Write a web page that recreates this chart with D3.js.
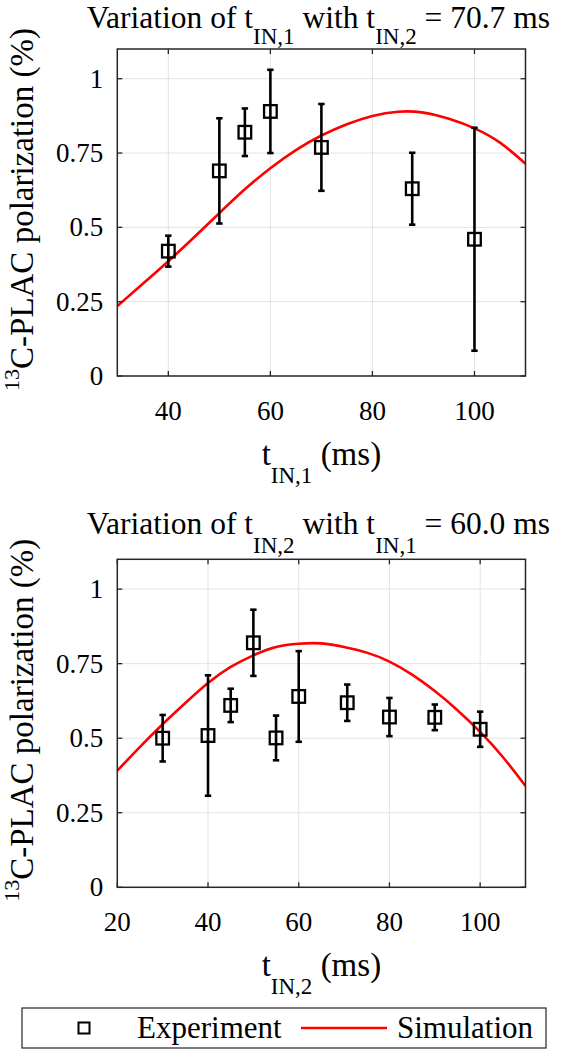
<!DOCTYPE html>
<html>
<head>
<meta charset="utf-8">
<script src="https://cdn.jsdelivr.net/npm/d3@7"></script>
<style>
  html, body { margin: 0; padding: 0; background: #fff; }
</style>
</head>
<body>
<svg id="chart" width="577" height="1050"></svg>
<script>
// ---------- DATA ----------
// Panel 1: variation of t_IN,1 (t_IN,2 = 70.7 ms)
const topExpX   = [40, 50, 55, 60, 70, 87.8, 100];
const topExpY   = [0.42, 0.69, 0.82, 0.89, 0.769, 0.63, 0.46];
const topExpErr = [0.052, 0.177, 0.08, 0.14, 0.146, 0.121, 0.375];
const topSimX   = [30, 35, 40, 45, 50, 55, 60, 65, 70, 75, 80, 85, 90, 95, 100, 105, 110];
const topSimY   = [0.235, 0.31, 0.386, 0.466, 0.548, 0.628, 0.699, 0.760, 0.809, 0.847, 0.875, 0.889, 0.886, 0.865, 0.833, 0.785, 0.714];

// Panel 2: variation of t_IN,2 (t_IN,1 = 60.0 ms)
const botExpX   = [30, 40, 45, 50, 55, 60, 70.7, 80, 90, 100];
const botExpY   = [0.50, 0.509, 0.61, 0.82, 0.501, 0.64, 0.619, 0.571, 0.57, 0.53];
const botExpErr = [0.078, 0.202, 0.056, 0.111, 0.075, 0.152, 0.061, 0.064, 0.043, 0.059];
const botSimX   = [20, 25, 30, 35, 40, 45, 50, 55, 60, 65, 70, 75, 80, 85, 90, 95, 100, 105, 110];
const botSimY   = [0.391, 0.471, 0.547, 0.618, 0.685, 0.739, 0.778, 0.806, 0.817, 0.818, 0.806, 0.787, 0.757, 0.713, 0.658, 0.594, 0.521, 0.437, 0.340];

const yTicks     = [0, 0.25, 0.5, 0.75, 1];
const yTickText  = ["0", "0.25", "0.5", "0.75", "1"];
const topXTicks  = [40, 60, 80, 100];
const botXTicks  = [20, 40, 60, 80, 100];
const topXDomain = [30, 110];
const botXDomain = [20, 110];
const yDomain    = [0, 1.1];

const titles = [
  ["Variation of t", "IN,1", " with t", "IN,2", " = 70.7 ms"],
  ["Variation of t", "IN,2", " with t", "IN,1", " = 60.0 ms"]
];
const xLabels = [["t", "IN,1", " (ms)"], ["t", "IN,2", " (ms)"]];
const yLabelSup = "13";
const yLabelMain = "C-PLAC polarization (%)";
const legendLabels = ["Experiment", "Simulation"];

// ---------- DRAW ----------
const svg = d3.select("#chart");
const AX = "#262626", GRID = "#e3e3e3", RED = "#ff0000";

function txt(sel, size) {
  return sel.attr("font-size", size)
    .style("font-family", `"Liberation Serif", monospace`)
    .attr("fill", "#000");
}

const panels = [
  { top: 49, bottom: 376, titleY: 28, subDy: 16, xDomain: topXDomain, xTicks: topXTicks,
    ex: topExpX, ey: topExpY, ee: topExpErr, sx: topSimX, sy: topSimY, title: titles[0], xl: xLabels[0] },
  { top: 559.3, bottom: 887.3, titleY: 533.5, subDy: 19, xDomain: botXDomain, xTicks: botXTicks,
    ex: botExpX, ey: botExpY, ee: botExpErr, sx: botSimX, sy: botSimY, title: titles[1], xl: xLabels[1] }
];
const left = 117.3, right = 525.5;

panels.forEach(p => {
  const x = d3.scaleLinear().domain(p.xDomain).range([left, right]);
  const y = d3.scaleLinear().domain(yDomain).range([p.bottom, p.top]);
  const g = svg.append("g");

  // grid
  g.selectAll(".gx").data(p.xTicks).enter().append("line")
    .attr("x1", d => x(d)).attr("x2", d => x(d))
    .attr("y1", p.top).attr("y2", p.bottom)
    .attr("stroke", GRID).attr("stroke-width", 1);
  g.selectAll(".gy").data(yTicks).enter().append("line")
    .attr("y1", d => y(d)).attr("y2", d => y(d))
    .attr("x1", left).attr("x2", right)
    .attr("stroke", GRID).attr("stroke-width", 1);

  // simulation curve
  const clipId = "clip" + Math.round(p.top);
  svg.append("clipPath").attr("id", clipId).append("rect")
    .attr("x", left).attr("y", p.top).attr("width", right - left).attr("height", p.bottom - p.top);
  const line = d3.line().x(d => x(d[0])).y(d => y(d[1])).curve(d3.curveNatural);
  g.append("path")
    .datum(p.sx.map((v, i) => [v, p.sy[i]]))
    .attr("d", line)
    .attr("fill", "none").attr("stroke", RED).attr("stroke-width", 2.6)
    .attr("clip-path", "url(#" + clipId + ")");

  // error bars
  const pts = p.ex.map((v, i) => ({ x: v, y: p.ey[i], e: p.ee[i] }));
  const eb = g.selectAll(".eb").data(pts).enter().append("g");
  eb.append("line")
    .attr("x1", d => x(d.x)).attr("x2", d => x(d.x))
    .attr("y1", d => y(d.y - d.e)).attr("y2", d => y(d.y + d.e))
    .attr("stroke", "#000").attr("stroke-width", 2.6);
  [-1, 1].forEach(s => {
    eb.append("line")
      .attr("x1", d => x(d.x) - 3.2).attr("x2", d => x(d.x) + 3.2)
      .attr("y1", d => y(d.y + s * d.e)).attr("y2", d => y(d.y + s * d.e))
      .attr("stroke", "#000").attr("stroke-width", 2.6);
  });
  eb.append("rect")
    .attr("x", d => x(d.x) - 6.3).attr("y", d => y(d.y) - 6.3)
    .attr("width", 12.6).attr("height", 12.6)
    .attr("fill", "none").attr("stroke", "#000").attr("stroke-width", 2.3);

  // axes box
  g.append("rect").attr("x", left).attr("y", p.top)
    .attr("width", right - left).attr("height", p.bottom - p.top)
    .attr("fill", "none").attr("stroke", AX).attr("stroke-width", 1.5);

  // inward ticks (all four sides)
  const tl = 5;
  p.xTicks.forEach(t => {
    g.append("line").attr("x1", x(t)).attr("x2", x(t)).attr("y1", p.bottom).attr("y2", p.bottom - tl).attr("stroke", AX).attr("stroke-width", 1.3);
    g.append("line").attr("x1", x(t)).attr("x2", x(t)).attr("y1", p.top).attr("y2", p.top + tl).attr("stroke", AX).attr("stroke-width", 1.3);
  });
  yTicks.forEach(t => {
    g.append("line").attr("x1", left).attr("x2", left + tl).attr("y1", y(t)).attr("y2", y(t)).attr("stroke", AX).attr("stroke-width", 1.3);
    g.append("line").attr("x1", right).attr("x2", right - tl).attr("y1", y(t)).attr("y2", y(t)).attr("stroke", AX).attr("stroke-width", 1.3);
  });

  // tick labels
  txt(g.selectAll(".xt").data(p.xTicks).enter().append("text"), 27)
    .attr("x", d => x(d)).attr("y", p.bottom + 44)
    .attr("text-anchor", "middle").text(d => d);
  txt(g.selectAll(".yt").data(yTicks).enter().append("text"), 27)
    .attr("x", left - 14).attr("y", d => y(d) + 9)
    .attr("text-anchor", "end").text((d, i) => yTickText[i]);

  // title
  const cx = (left + right) / 2;
  const tt = txt(g.append("text"), 31.5).attr("x", cx - 3).attr("y", p.titleY)
    .attr("text-anchor", "middle");
  tt.append("tspan").text(p.title[0]);
  tt.append("tspan").attr("font-size", 23).attr("dy", p.subDy).text(p.title[1]);
  tt.append("tspan").attr("dy", -p.subDy).text(p.title[2]);
  tt.append("tspan").attr("font-size", 23).attr("dy", p.subDy).text(p.title[3]);
  tt.append("tspan").attr("dy", -p.subDy).text(p.title[4]);

  // x label
  const xl = txt(g.append("text"), 33).attr("x", cx).attr("y", p.bottom + 89)
    .attr("text-anchor", "middle");
  xl.append("tspan").text(p.xl[0]);
  xl.append("tspan").attr("font-size", 23).attr("dy", 18).text(p.xl[1]);
  xl.append("tspan").attr("dy", -18).text(p.xl[2]);

  // y label
  const cy = (p.top + p.bottom) / 2 - 3;
  const yl = txt(g.append("text"), 33).attr("transform", `translate(33,${cy}) rotate(-90)`)
    .attr("text-anchor", "middle");
  yl.append("tspan").attr("font-size", 22).attr("dy", -14).text(yLabelSup);
  yl.append("tspan").attr("dy", 14).text(yLabelMain);
});

// legend
const lg = svg.append("g");
lg.append("rect").attr("x", 22).attr("y", 1008).attr("width", 524).attr("height", 40)
  .attr("fill", "#fff").attr("stroke", AX).attr("stroke-width", 1.2);
lg.append("rect").attr("x", 84 - 5.5).attr("y", 1028 - 5.5).attr("width", 11).attr("height", 11)
  .attr("fill", "none").attr("stroke", "#000").attr("stroke-width", 2);
txt(lg.append("text"), 31).attr("x", 137).attr("y", 1038).text(legendLabels[0]);
lg.append("line").attr("x1", 301).attr("x2", 387).attr("y1", 1028).attr("y2", 1028)
  .attr("stroke", RED).attr("stroke-width", 2.6);
txt(lg.append("text"), 31).attr("x", 397).attr("y", 1038).text(legendLabels[1]);
</script>
</body>
</html>
